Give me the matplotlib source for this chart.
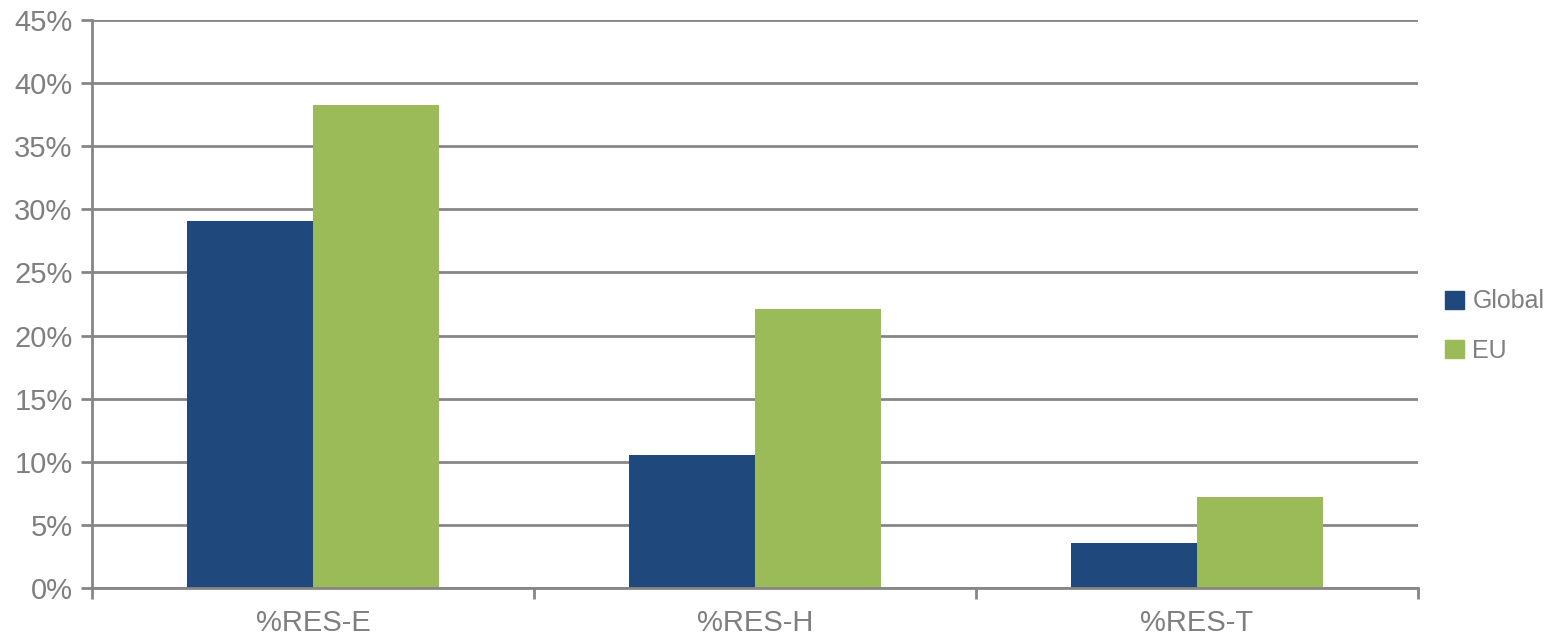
import matplotlib
matplotlib.use("Agg")
import matplotlib.pyplot as plt
from matplotlib.patches import Patch
from matplotlib.ticker import FuncFormatter, FixedLocator, NullFormatter

categories = ["%RES-E", "%RES-H", "%RES-T"]
global_vals = [29.1, 10.5, 3.6]
eu_vals = [38.3, 22.1, 7.2]
series_names = ["Global", "EU"]
colors = ["#1F497D", "#9BBB59"]
grid_col = "#868686"
text_col = "#7F7F7F"

plt.rcParams["font.family"] = ["Liberation Sans Narrow", "Liberation Sans", "DejaVu Sans"]

fig = plt.figure(figsize=(15.48, 6.4), dpi=100)
ax = fig.add_axes([92/1548, 1-588/640, (1418-92)/1548, (588-20)/640])

x = list(range(len(categories)))
w = 0.285
ax.bar([i - w/2 for i in x], global_vals, width=w, color=colors[0], zorder=3)
ax.bar([i + w/2 for i in x], eu_vals, width=w, color=colors[1], zorder=3)

ax.set_xlim(-0.5, 2.5)
ax.set_ylim(0, 45)
ax.set_yticks(range(0, 46, 5))
ax.yaxis.set_major_formatter(FuncFormatter(lambda v, p: "%d%%" % v))
ax.grid(axis="y", color=grid_col, linewidth=2, zorder=0)

ax.xaxis.set_major_locator(FixedLocator([-0.5, 0.5, 1.5, 2.5]))
ax.xaxis.set_major_formatter(NullFormatter())
ax.xaxis.set_minor_locator(FixedLocator(x))
ax.set_xticklabels(categories, minor=True)
ax.tick_params(axis="x", which="minor", length=0, pad=15, labelsize=21, labelcolor=text_col)
ax.tick_params(axis="x", which="major", length=8, width=2, color=grid_col)
ax.tick_params(axis="y", length=8, width=2, color=grid_col, labelsize=21, labelcolor=text_col, pad=6)

for s in ["top", "right"]:
    ax.spines[s].set_visible(False)
for s in ["left", "bottom"]:
    ax.spines[s].set_color(grid_col)
    ax.spines[s].set_linewidth(2)
    ax.spines[s].set_zorder(4)

handles = [Patch(color=c) for c in colors]
leg = fig.legend(handles, series_names, loc="center left", bbox_to_anchor=(1445/1548, 1-326/640),
                 frameon=False, fontsize=18, handlelength=0.75, handleheight=0.75,
                 handletextpad=0.35, labelspacing=1.0, borderpad=0, borderaxespad=0)
for t in leg.get_texts():
    t.set_color(text_col)

fig.savefig("out.png", dpi=100)
